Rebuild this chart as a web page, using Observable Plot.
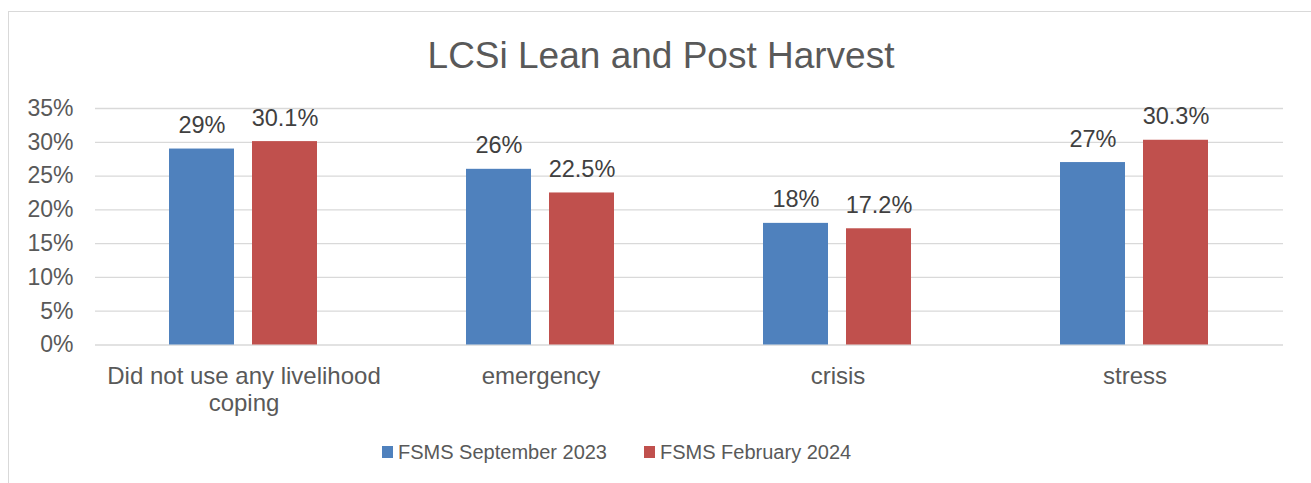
<!DOCTYPE html>
<html>
<head>
<meta charset="utf-8">
<script src="https://cdn.jsdelivr.net/npm/d3@7"></script>
<script src="https://cdn.jsdelivr.net/npm/@observablehq/plot@0.6"></script>
<style>
  html, body { margin: 0; padding: 0; background: #fff; }
  #wrap { position: relative; width: 1311px; height: 483px; overflow: hidden; font-family: "Liberation Sans", Arial, sans-serif; }
  #frame { position: absolute; left: 8px; top: 11px; width: 1400px; height: 600px; border: 1.3px solid #d9d9d9; box-sizing: border-box; }
  #title { position: absolute; left: 0; top: 37px; width: 1322px; text-align: center; font-size: 37px; line-height: 1; color: #595959; }
  #chart { position: absolute; left: 0; top: 90px; }
  #legend { position: absolute; left: 382px; top: 442px; height: 20px; display: flex; align-items: center; font-size: 20px; line-height: 1; color: #595959; }
  .sw { display: inline-block; width: 11px; height: 12px; margin-right: 5px; }
  .item { display: flex; align-items: center; margin-right: 37px; }
</style>
</head>
<body>
<div id="wrap">
  <div id="frame"></div>
  <div id="title"></div>
  <div id="chart"></div>
  <div id="legend"></div>
</div>
<script>
const titleText = "LCSi Lean and Post Harvest";
const categories = ["Did not use any livelihood coping", "emergency", "crisis", "stress"];
const categoryLabels = ["Did not use any livelihood\ncoping", "emergency", "crisis", "stress"];
const seriesNames = ["FSMS September 2023", "FSMS February 2024"];
const seriesColors = ["#4F81BD", "#C0504D"];
const sept2023 = [29, 26, 18, 27];
const feb2024 = [30.1, 22.5, 17.2, 30.3];
const yTicks = [0, 5, 10, 15, 20, 25, 30, 35];

const data = [];
categories.forEach((c, i) => {
  data.push({category: c, series: seriesNames[0], value: sept2023[i]});
  data.push({category: c, series: seriesNames[1], value: feb2024[i]});
});

document.getElementById("title").textContent = titleText;

const chart = Plot.plot({
  width: 1311,
  height: 340,
  marginTop: 18,
  marginBottom: 85.5,
  marginLeft: 95,
  marginRight: 28,
  style: {fontSize: "23px", fontFamily: "'Liberation Sans', Arial, sans-serif", color: "#595959", background: "transparent"},
  fx: {domain: categories, padding: 0, label: null, axis: null},
  x: {domain: seriesNames, paddingInner: 0.214, paddingOuter: 0.875, axis: null},
  y: {domain: [0, 35], axis: null},
  color: {domain: seriesNames, range: seriesColors},
  marks: [
    Plot.gridY(yTicks, {stroke: "#d9d9d9", strokeOpacity: 1, strokeWidth: 1.3}),
    Plot.axisY(yTicks, {tickSize: 0, tickPadding: 22, tickFormat: d => d + "%", label: null, fill: "#595959"}),
    Plot.axisFx({anchor: "bottom", tickSize: 0, tickPadding: 20, label: null, lineHeight: 1.12, fontSize: 24,
      tickFormat: d => categoryLabels[categories.indexOf(d)], fill: "#595959"}),
    Plot.barY(data, {fx: "category", x: "series", y: "value", fill: "series"}),
    Plot.text(data, {fx: "category", x: "series", y: "value", text: d => d.value + "%",
      lineAnchor: "bottom", dy: -16, fill: "#404040", fontSize: 23.5})
  ]
});
document.getElementById("chart").appendChild(chart);

const legend = document.getElementById("legend");
seriesNames.forEach((s, i) => {
  const item = document.createElement("div");
  item.className = "item";
  const sw = document.createElement("span");
  sw.className = "sw";
  sw.style.background = seriesColors[i];
  const t = document.createElement("span");
  t.textContent = s;
  item.appendChild(sw);
  item.appendChild(t);
  legend.appendChild(item);
});
</script>
</body>
</html>
